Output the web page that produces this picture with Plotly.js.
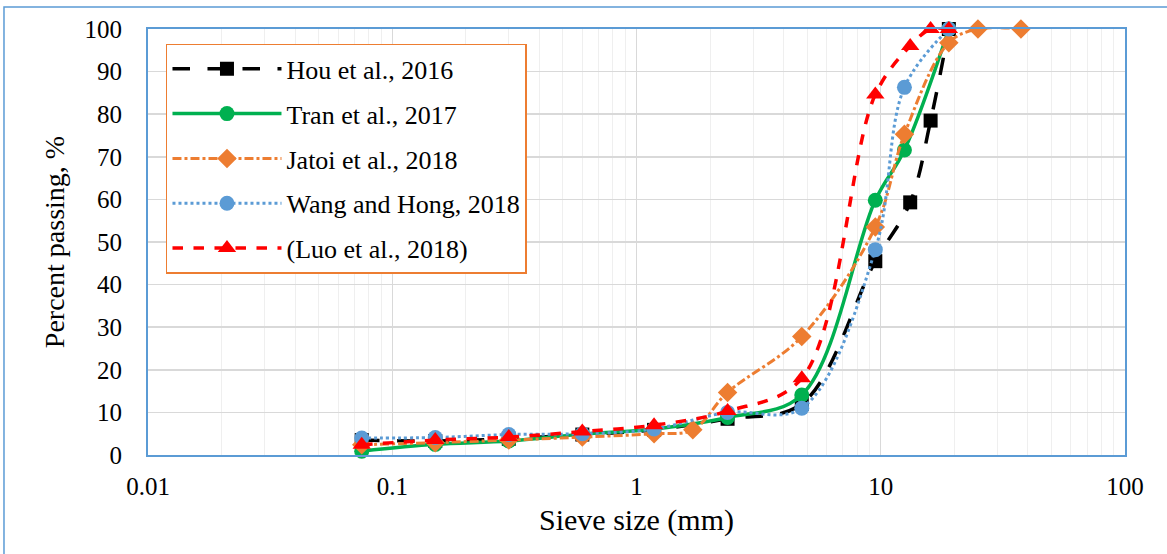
<!DOCTYPE html>
<html>
<head>
<meta charset="utf-8">
<script src="https://cdn.plot.ly/plotly-3.0.1.min.js"></script>
<style>
html,body{margin:0;padding:0;background:#fff;}
#chart{width:1167px;height:554px;}
</style>
</head>
<body>
<div id="chart"></div>
<script>
// Sieve sizes (mm) and percent passing for each study
const houSize   = [0.075, 0.15, 0.3, 0.6, 1.18, 2.36, 4.75, 9.5, 13.2, 16, 19];
const houPass   = [3.5, 3.3, 3.8, 4.8, 5.9, 8.5, 12, 45.5, 59.3, 78.5, 100];

const tranSize  = [0.075, 0.15, 0.3, 0.6, 1.18, 2.36, 4.75, 9.5, 12.5, 19];
const tranPass  = [0.9, 2.5, 3.3, 4.9, 6.1, 8.8, 14.1, 59.8, 71.6, 100];

const jatoiSize = [0.075, 0.15, 0.3, 0.6, 1.18, 1.7, 2.36, 4.75, 9.5, 12.5, 19, 25, 37.5];
const jatoiPass = [2.4, 2.9, 3.5, 4.2, 5.0, 5.9, 14.7, 27.8, 53.5, 75.3, 96.8, 100, 100];

const wangSize  = [0.075, 0.15, 0.3, 0.6, 1.18, 2.36, 4.75, 9.5, 12.5, 19];
const wangPass  = [4.0, 4.1, 4.8, 5.0, 6.1, 10.0, 11.0, 48.2, 86.3, 100];

const luoSize   = [0.075, 0.15, 0.3, 0.6, 1.18, 2.36, 4.75, 9.5, 13.2, 16, 19];
const luoPass   = [2.4, 3.5, 4.2, 5.5, 7.0, 10.3, 18.0, 84.6, 96.0, 100, 100];

const seriesNames = ["Hou et al., 2016", "Tran et al., 2017", "Jatoi et al., 2018", "Wang and Hong, 2018", "(Luo et al., 2018)"];
const xTickVals = [0.01, 0.1, 1, 10, 100];
const xTickText = ["0.01", "0.1", "1", "10", "100"];

const FONT = "'Liberation Serif', 'Times New Roman', 'DejaVu Serif', serif";

function tr(x, y, name, color, dash, width, symbol, msize, grp) {
  return {
    x: x, y: y, name: name, type: "scatter", mode: "lines+markers",
    legendgroup: grp, cliponaxis: false,
    line: {color: color, dash: dash, width: width, shape: "spline", smoothing: 1},
    marker: {color: color, symbol: symbol, size: msize, line: {width: 0}}
  };
}

const data = [
  tr(houSize, houPass, seriesNames[0], "#000000", "longdash", 3.5, "square", 14, "g1"),
  tr(tranSize, tranPass, seriesNames[1], "#00B050", "solid", 3.5, "circle", 15, "g2"),
  tr(jatoiSize, jatoiPass, seriesNames[2], "#ED7D31", "dashdot", 3, "diamond", 15, "g3"),
  tr(wangSize, wangPass, seriesNames[3], "#5B9BD5", "dot", 3, "circle", 15, "g4"),
  tr(luoSize, luoPass, seriesNames[4], "#FF0000", "dash", 3.5, "triangle-up", 16, "g5")
];

const layout = {
  width: 1167, height: 554,
  margin: {l: 148, r: 42, t: 29, b: 99},
  paper_bgcolor: "#ffffff", plot_bgcolor: "#ffffff",
  font: {family: FONT, color: "#000000", size: 24},
  showlegend: true,
  legend: {
    x: 0.0184, y: 0.965, xanchor: "left", yanchor: "top",
    bgcolor: "#ffffff", bordercolor: "#ED7D31", borderwidth: 1.5,
    font: {family: FONT, size: 26, color: "#000000"},
    tracegroupgap: 8, traceorder: "grouped", itemwidth: 109
  },
  xaxis: {
    type: "log", range: [-2, 2],
    tickmode: "array", tickvals: xTickVals, ticktext: xTickText,
    showgrid: true, gridcolor: "#d9d9d9", gridwidth: 1,
    minor: {dtick: "D1", showgrid: true, gridcolor: "#efefef", gridwidth: 1, ticks: ""},
    showline: true, linecolor: "#5B9BD5", linewidth: 2, mirror: true,
    ticks: "", zeroline: false, ticklabelstandoff: 8,
    tickfont: {family: FONT, size: 25, color: "#000000"},
    title: {text: "Sieve size (mm)", font: {family: FONT, size: 30, color: "#000000"}, standoff: 10}
  },
  yaxis: {
    range: [0, 100], dtick: 10, tick0: 0,
    showgrid: true, gridcolor: "#d9d9d9", gridwidth: 1.5,
    showline: true, linecolor: "#5B9BD5", linewidth: 2, mirror: true,
    ticks: "", zeroline: false, ticklabelstandoff: 19,
    tickfont: {family: FONT, size: 25, color: "#000000"},
    title: {text: "Percent passing, %", font: {family: FONT, size: 28, color: "#000000"}, standoff: 12}
  },
  shapes: [{
    type: "rect", xref: "paper", yref: "paper", layer: "below",
    x0: -0.1474, x1: 1.2, y0: -0.3, y1: 1.0516,
    line: {color: "#5B9BD5", width: 1.5}, fillcolor: "rgba(0,0,0,0)"
  }]
};

Plotly.newPlot("chart", data, layout, {displayModeBar: false, staticPlot: true});
</script>
</body>
</html>
